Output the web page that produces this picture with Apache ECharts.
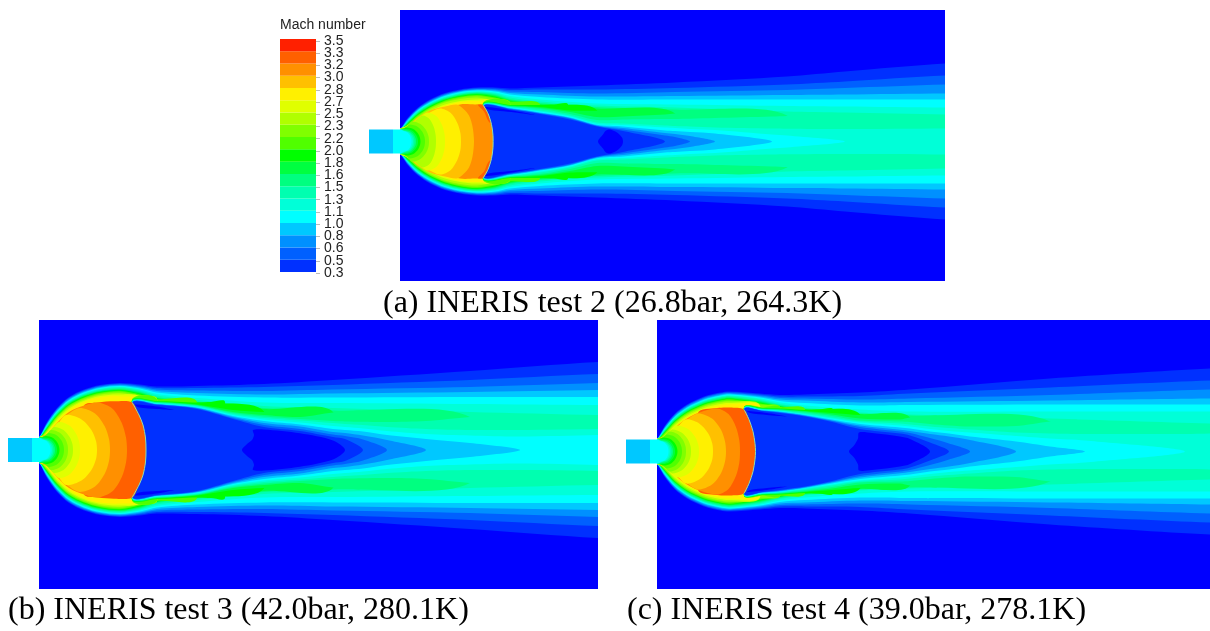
<!DOCTYPE html>
<html><head><meta charset="utf-8">
<style>html,body{margin:0;padding:0;background:#fff}#c{width:1210px;height:631px;filter:blur(0.55px)}</style>
<script src="https://cdn.jsdelivr.net/npm/echarts@6/dist/echarts.min.js"></script>
</head><body><div id="c"></div>
<script>
// Contour colours, C0 (lowest Mach) to C19
const bandColors=['#0000ff','#0030ff','#0060ff','#0090ff','#00c8ff','#00ffff','#00ffd8','#00ffb0','#00ff80','#00ff40','#00ff00','#50ff00','#80ff00','#b0ff00','#e0ff00','#fff000','#ffc000','#ff9000','#ff6000','#ff2000'];
const tickLabels=['0.3','0.5','0.6','0.8','1.0','1.1','1.3','1.5','1.6','1.8','2.0','2.2','2.3','2.5','2.7','2.8','3.0','3.2','3.3','3.5'];
const captions=['(a) INERIS test 2 (26.8bar, 264.3K)','(b) INERIS test 3 (42.0bar, 280.1K)','(c) INERIS test 4 (39.0bar, 278.1K)'];
const nozzleX=[-31,-7,0], nozzleHalf=12;

// Nozzle-exit iso-Mach contours [x, half-height]
const n_C12=[[0,12],[4,13],[8,16],[12,20],[20.5,17.4],[26,11.4],[28.5,5.2],[29,0]];
const n_C11=[[0,12],[3,13],[7,15],[10,17],[17.5,14.8],[22.3,9.7],[24.5,4.4],[25,0]];
const n_C10=[[0,12],[3,12.5],[7,14],[13.7,12.2],[18,8],[20,3.6],[20.5,0]];
const n_C9=[[0,12],[6,12.5],[12,10.9],[15.8,7.1],[17.6,3.3],[18,0]];
const n_C8=[[0,12],[5,11.5],[10.5,10],[14,6.6],[15.7,3],[16,0]];
const n_C7=[[0,12],[5,10.5],[9.7,9.1],[12.8,6],[14.2,2.7],[14.5,0]];
const n_C6=[[0,12],[4,10.5],[8.5,9.1],[11.4,6],[12.7,2.7],[13,0]];
const n_C5=[[0,12],[3,10.5],[7.2,9.1],[10,6],[11.2,2.7],[11.5,0]];

// PANEL A: outer contour half-heights at stations a_x
const a_x=[0,2,8,18,30,45,60,77,95,110,140,197,275,387,445,545];
const a_E1=[12,15,24,34,42,48.5,52,54,54,53,54,56,59,65,70,78];
const a_E2=[12,14.5,23.3,33.3,41.2,47.7,51.3,53.2,53,51.5,52,52,53.5,57,60,66];
const a_E3=[12,14.2,22.7,32.6,40.5,47,50.6,52.4,52,50,49.5,48,49.5,51.5,53.5,57];
const a_E4=[12,14,22,32,39.8,46.3,50,51.7,51,48.5,47,45,45.5,46.5,47,48];
const a_E5=[12,13.7,21.3,31.3,39,45.5,49.3,51,50,47,44.5,42,42,42,42,42];
const a_E6=[12,13.3,20.6,30.5,38.2,44.7,48.5,50.3,49,45.5,42,38,37,35.5,35,34];
const a_E7=[12,13,20,29.7,37.4,44,47.8,49.5,48,44,40,36,34,30,29,27];
const a_E8=[12,12.8,19.4,29,36.7,43.2,47,48.8,47,42.5,38.5,34.5,32,26];
const a_E9=[12,12.6,18.8,28.2,36,42.5,46.3,48,46,41.5,37.5,33,28];
const a_E10=[12,12.4,18.2,27.4,35.2,41.7,45.5,47.3,45,40.5,36.5,31];
const a_E11=[12,12.2,17.5,26.5,34.3,41,44.7,46.5,44,40,37];
const a_E12=[12,12,16.5,25.5,33.5,40,43.8,45.5,43,39];
const a_E13=[12,12,15.5,24.5,32.5,39,42.5,44,41,38];
const a_E14=[12,12,14.5,23,30.5,37,40.5,42,39.5];
const a_E15=[12,12,14,22,29.5,35.5,39.5,40.5,38.5];
// PANEL A: wake half-heights at stations a_w
const a_w=[83,110,140,170,197,223,265,275,290,315,372,387,445,545];
const a_W12=[38.5,38];
const a_W11=[38,38.5];
const a_W10=[37.5,36.5,36.5];
const a_W9=[37,36,34.5,31,30.7];
const a_W8=[36.5,35.5,33.5,29.5,24.5,25,27,28];
const a_W7=[36,35,32.5,27.5,21.5,22,22.5,22.6,22.8,23.5,25,25.6];
const a_W6=[36,34.5,31,26,19,18,16,15.5,15,14,13,12.8,12.5,13];
const a_W5=[35.5,34,30,25,17.5,16.5,14,13.5,12.5,11.5,7,6,0];
const a_W4=[35.5,33.5,29,24,16.7,15,11,10.5,9.5,8,0];
const a_W3=[35,33,28.5,23.5,16,13.5,8.5,7.5,5.5,0];
const a_W2=[35,32.5,28,23,15.5,12,6,4.5,0];
const a_W1=[34.5,32,27.5,22,15,10.5,0];
const a_bulb=[[198,0],[203,7],[206,11],[210,12],[217,9],[222,4],[223,0]];
const a_sliver=[[85,34.5],[100,33],[120,29.5],[135,26.5],[115,29],[100,30.5],[88,32]];
const a_disc=[[40,30],[60,37],[75,37],[83,36.5],[88,28],[91.5,17],[93,6],[93,0]];
const a_discEdge=[[83,36.5],[88,28],[91.5,17],[93,6],[93,-6],[91.5,-17],[88,-28],[83,-36.5]];
const a_red=[[78,36.5],[83,36.5],[88,28],[91,18],[88,21],[84,30]];
const a_B16=[[0,12],[8,16],[18,24],[30,31],[45,35],[57,37],[64,32],[69,26],[72.5,15],[74,0]];
const a_B15=[[0,12],[8,15],[18,22],[28,28],[40,33],[50.5,28.7],[57.2,18.8],[60.4,8.6],[61,0]];
const a_B14=[[0,12],[6,15],[14,20],[22,26],[28,29],[36.5,25.2],[42,16.5],[44.5,7.5],[45,0]];
const a_B13=[[0,12],[5,14],[12,18],[18,23],[23,26],[29.5,22.6],[33.7,14.8],[35.6,6.8],[36,0]];

// PANEL B
const b_x=[0,2,8,18,30,45,61,81,101,118,158,225,294,431,559];
const b_E1=[12,16,28,42,53,60.5,65,67,65.5,63.5,64,66,70,79,88];
const b_E2=[12,15.5,27.3,41.2,52.2,59.7,64.2,66.2,64.5,62,62,63,65,70,76];
const b_E3=[12,15.2,26.6,40.4,51.4,59,63.5,65.5,63.5,60.5,59.5,59,60.5,63,67];
const b_E4=[12,15,25.9,39.6,50.6,58.2,62.8,64.8,62.5,59,57,55.5,56.5,58,60];
const b_E5=[12,14.7,25.2,38.8,49.8,57.4,62,64,61.5,57.5,54.5,52.5,52.5,53,53];
const b_E6=[12,14.4,24.5,38,49,56.6,61.2,63.2,60.5,56,52,47.5,47,46,45];
const b_E7=[12,14.1,23.8,37.2,48.2,55.8,60.4,62.4,59.5,54.5,50,44,42,38,35];
const b_E8=[12,13.8,23.1,36.4,47.4,55,59.6,61.6,58.5,53,48.5,42,39.5,33];
const b_E9=[12,13.5,22.4,35.6,46.6,54.2,58.8,60.8,57.5,52,48,41,38];
const b_E10=[12,13.2,21.7,34.8,45.8,53.4,58,60,56.5,51.5,47,38.5];
const b_E11=[12,13,21,34,45,52.6,57.2,59.2,55.5,51,48];
const b_E12=[12,12.8,20,33,44,51.7,56.3,58.2,54.5,51];
const b_E13=[12,12.5,19,32,43,50.6,55.3,57,53.5,51];
const b_E14=[12,12.2,18,30.5,41.5,49.3,54,55.5,52];
const b_E15=[12,12,17,29,40,48,52.5,53.5,50];
const b_w=[93,118,158,194,225,261,294,306,324,348,387,431,481,559];
const b_W12=[50.5,50];
const b_W11=[50,50.5];
const b_W10=[49.5,49,47.5];
const b_W9=[49,48.5,45.5,40,38];
const b_W8=[48.5,48,45,38,35,33,37.5];
const b_W7=[48,47.5,44.5,37,33.5,31,29,28.6,28.2,28,29,33];
const b_W6=[47.7,47,44,36,32,29.5,27,26,25,23,21,20,20,21];
const b_W5=[47.5,46.5,43,35,30.5,27.5,24,23,21.5,19,16,14.5,13.5,15];
const b_W4=[47.3,46,42.5,34,29,25.5,21,20,18.5,15,11,7,0];
const b_W3=[47,45.7,42,33,27,23.5,18,17,14.5,10,0];
const b_W2=[46.8,45.4,41.5,32,25,21,15.5,14,10.5,0];
const b_W1=[46.5,45,41,31,23,19,13,11,0];
const b_bulb=[[203,0],[208,6],[213,10],[215,15],[214,20],[225,20.5],[261,16.7],[294,9.5],[306,0]];
const b_sliver=[[96,45.5],[118,43.5],[135,40],[118,41],[100,42.5]];
const b_disc=[[45,44],[59,47.5],[75,48.7],[93,47.7],[100,35],[104,25],[106.5,12],[107,0]];
const b_discEdge=[[93,47.7],[100,35],[104,25],[106.5,12],[107,0],[106.5,-12],[104,-25],[100,-35],[93,-47.7]];
const b_B17=[[0,12],[8,16],[18,27],[30,38],[45,44.5],[59,47.5],[73.5,41.3],[82.8,27],[87,12.4],[88,0]];
const b_B16=[[0,12],[8,16],[18,26],[30,36.5],[41,42],[56,36.5],[65.6,24],[70,11],[71,0]];
const b_B15=[[0,12],[8,15],[18,25],[27,35],[42.5,30.5],[52.4,20],[57,9],[58,0]];
const b_B14=[[0,12],[6,14],[13,21],[20,28],[30.5,24.4],[37.2,16],[40.4,7.3],[41,0]];
const b_B13=[[0,12],[5,13.5],[10,18],[15,23],[24.5,20],[30.6,13],[33.4,6],[34,0]];

// PANEL C
const c_x=[0,2,8,18,30,47,63,73,103,123,148,203,253,393,553];
const c_E1=[12,15.5,26,38,47,55,59,60,58,56.5,57,59,62,73,83];
const c_E2=[12,15,25.3,37.2,46.2,54.2,58.2,59.2,57,55,55,55.5,58,64,71];
const c_E3=[12,14.7,24.6,36.4,45.4,53.4,57.4,58.5,56,53.5,53,52,53,56.5,62];
const c_E4=[12,14.5,23.9,35.6,44.6,52.6,56.6,57.7,55,52,51,49,49.5,51,53];
const c_E5=[12,14.2,23.2,34.8,43.8,51.8,55.8,57,54,50.5,48.5,46,46.5,47,47];
const c_E6=[12,13.9,22.5,34,43,51,55,56.2,53,49,46,42,40,40,40];
const c_E7=[12,13.6,21.8,33.2,42.2,50.2,54.2,55.4,52,47.5,44,39,37,33,28];
const c_E8=[12,13.3,21.1,32.4,41.4,49.4,53.4,54.6,51,46.5,43,38,36,30];
const c_E9=[12,13,20.4,31.6,40.6,48.6,52.6,53.8,50,45.5,42.5,37.5,34];
const c_E10=[12,12.8,19.7,30.8,39.8,47.8,51.8,53,49,45,42,37];
const c_E11=[12,12.6,19,30,39,47,51,52.2,48,44.5,42];
const c_E12=[12,12.4,18,29,38,46,50,51,47,44];
const c_E13=[12,12.2,17,28,37,45,49,50,46];
const c_E14=[12,12,16,26.5,35.5,43.5,47.5,48.5,45.5];
const c_E15=[12,12,15,25,34,42,46,47,45];
const c_w=[87,105,123,148,175,203,243,253,273,292,313,359,393,428,528,553];
const c_W12=[44.5,44.5,44];
const c_W11=[44.2,44,44];
const c_W10=[44,43.5,43,41.5];
const c_W9=[43.7,43,42.5,40.5,38.5,36.5];
const c_W8=[43.5,42.7,42,40,37,33,32,34];
const c_W7=[43.3,42.5,41.5,39,35.5,31,30,29.5,27.5,26,25,25.5,30];
const c_W6=[43,42,41,38,34,30,28,27,25,23.5,22,19,18,17.5,17.5,18];
const c_W5=[42.8,41.7,40.5,37,33,29,26,25,22.5,20.5,19,15.5,13,11,0];
const c_W4=[42.6,41.3,40,36.5,32,27.5,24,23,20,18,15,10,5,0];
const c_W3=[42.4,41,39.5,36,31,26,21.7,20.5,17.5,15,11.5,0];
const c_W2=[42.2,40.7,39,35.5,30.5,24.5,20,18.5,13.5,8,0];
const c_W1=[42,40.5,38.5,35,29.5,22.5,18,16,9,0];
const c_bulb=[[192,0],[197,6],[201,13],[202,19],[215,18.5],[243,15],[253,12.5],[273,0]];
const c_sliver=[[90,40.5],[110,38.5],[130,35],[110,36.5],[93,38.5]];
const c_disc=[[41,38.5],[60,43.5],[73,44],[87,42],[92,32],[96,20],[98,8],[98.5,0]];
const c_discEdge=[[87,42],[92,32],[96,20],[98,8],[98.5,0],[98,-8],[96,-20],[92,-32],[87,-42]];
const c_B17=[[0,12],[8,15],[18,24],[30,33],[41,38.5],[60,43],[71.5,37.4],[78.9,24.5],[82.3,11.2],[83,0]];
const c_B16=[[0,12],[8,15],[18,23],[29,31],[41,38],[55,33],[64,21.7],[68,10],[69,0]];
const c_B15=[[0,12],[8,14.5],[18,22],[29,32],[42.5,27.8],[51.1,18.2],[55.2,8.3],[56,0]];
const c_B14=[[0,12],[6,14],[13,20],[20,26],[31,22.6],[38,14.8],[41.3,6.8],[42,0]];
const c_B13=[[0,12],[5,13.5],[10,17],[15,22],[24.5,19],[30.6,12.5],[33.4,5.7],[34,0]];

const zip=(xs,hs)=>hs.map((h,i)=>[xs[i],h]);
const mirror=p=>p.concat(p.slice().reverse().filter(q=>q[1]!==0).map(q=>[q[0],-q[1]]));
// a contour that leaves the frame is continued past the clip edge, so the closing corner is never seen
const open=(p,xMax)=>{const l=p[p.length-1];return (l[0]>=xMax-2&&l[1]>0)?p.concat([[xMax+40,l[1]],[xMax+80,l[1]]]):p;};
// a lens's inner edge runs on past its tip over ground of its own colour, hiding the lens's closing edge
const tail=(p,on)=>{const l=p[p.length-1];return (on&&l[1]>0)?p.concat([[l[0]+14,l[1]+.5],[l[0]+28,l[1]+.5]]):p;};

function panelLayers(xMax,x,E,w,W,bulb,sliver,disc,discColor,extra,blobs){
  const L=[];
  E.forEach((hs,i)=>L.push({c:i+1,pts:mirror(open(zip(x,hs),xMax))}));
  for(let k=W.length;k>=1;k--){ L.push({c:k,pts:mirror(open(tail(zip(w,W[k-1]),k<=10),xMax))}); }
  L.push({c:0,pts:mirror(bulb)});
  L.push({c:0,pts:sliver,both:true});
  L.push({c:discColor,pts:mirror(disc)});
  if(extra) L.push({c:18,pts:extra,both:true});
  blobs.forEach(b=>L.push({c:b[0],pts:mirror(b[1])}));
  return L;
}
const shared=[[12,n_C12],[11,n_C11],[10,n_C10],[9,n_C9],[8,n_C8],[7,n_C7],[6,n_C6],[5,n_C5]];
const layersA=panelLayers(545,a_x,[a_E1,a_E2,a_E3,a_E4,a_E5,a_E6,a_E7,a_E8,a_E9,a_E10,a_E11,a_E12,a_E13,a_E14,a_E15],a_w,
  [a_W1,a_W2,a_W3,a_W4,a_W5,a_W6,a_W7,a_W8,a_W9,a_W10,a_W11,a_W12],a_bulb,a_sliver,a_disc,17,a_red,
  [[16,a_B16],[15,a_B15],[14,a_B14],[13,a_B13]].concat(shared));
const layersB=panelLayers(559,b_x,[b_E1,b_E2,b_E3,b_E4,b_E5,b_E6,b_E7,b_E8,b_E9,b_E10,b_E11,b_E12,b_E13,b_E14,b_E15],b_w,
  [b_W1,b_W2,b_W3,b_W4,b_W5,b_W6,b_W7,b_W8,b_W9,b_W10,b_W11,b_W12],b_bulb,b_sliver,b_disc,18,null,
  [[17,b_B17],[16,b_B16],[15,b_B15],[14,b_B14],[13,b_B13]].concat(shared));
const layersC=panelLayers(553,c_x,[c_E1,c_E2,c_E3,c_E4,c_E5,c_E6,c_E7,c_E8,c_E9,c_E10,c_E11,c_E12,c_E13,c_E14,c_E15],c_w,
  [c_W1,c_W2,c_W3,c_W4,c_W5,c_W6,c_W7,c_W8,c_W9,c_W10,c_W11,c_W12],c_bulb,c_sliver,c_disc,18,null,
  [[17,c_B17],[16,c_B16],[15,c_B15],[14,c_B14],[13,c_B13]].concat(shared));

function plotSeries(i,layers,edge){
  const items=layers.map((l,k)=>[k,0]);
  return {type:'custom',coordinateSystem:'cartesian2d',xAxisIndex:i,yAxisIndex:i,silent:true,clip:true,animation:false,
    encode:{x:0,y:1},data:items.concat([[layers.length,0]]),
    renderItem(p,api){
      if(p.dataIndex===layers.length){
        return {type:'polyline',shape:{points:edge.map(q=>api.coord(q)),smooth:0.3},style:{stroke:'#8fdcb0',lineWidth:1,fill:null}};
      }
      const l=layers[p.dataIndex];
      const poly=pts=>({type:'polygon',shape:{points:pts.map(q=>api.coord(q)),smooth:0.3},style:{fill:bandColors[l.c]}});
      if(l.both) return {type:'group',children:[poly(l.pts),poly(l.pts.map(q=>[q[0],-q[1]]))]};
      return poly(l.pts);
    }};
}
function nozzleSeries(i){
  return {type:'custom',coordinateSystem:'cartesian2d',xAxisIndex:i,yAxisIndex:i,silent:true,animation:false,
    encode:{x:0,y:1},data:[[0,0],[1,0]],
    renderItem(p,api){
      const a=nozzleX[p.dataIndex],b=nozzleX[p.dataIndex+1];
      return {type:'polygon',shape:{points:[[a,nozzleHalf],[b,nozzleHalf],[b,-nozzleHalf],[a,-nozzleHalf]].map(q=>api.coord(q))},style:{fill:bandColors[4+p.dataIndex]}};
    }};
}
const panels=[
 {left:400,top:10,w:545,h:271,xMax:545,yMax:131.5,nl:369},
 {left:39,top:320,w:559,h:269,xMax:559,yMax:130,nl:9},
 {left:657,top:320,w:553,h:269,xMax:553,yMax:131.5,nl:626}
];
const grids=[],xA=[],yA=[],series=[];
panels.forEach(p=>{
  grids.push({left:p.left,top:p.top,width:p.w,height:p.h,show:true,backgroundColor:bandColors[0],borderWidth:0});
  xA.push({type:'value',gridIndex:grids.length-1,min:0,max:p.xMax,show:false});
  yA.push({type:'value',gridIndex:grids.length-1,min:p.yMax-p.h,max:p.yMax,show:false});
});
panels.forEach(p=>{
  grids.push({left:p.nl,top:p.top,width:p.left-p.nl,height:p.h,show:false});
  xA.push({type:'value',gridIndex:grids.length-1,min:-(p.left-p.nl),max:0,show:false});
  yA.push({type:'value',gridIndex:grids.length-1,min:p.yMax-p.h,max:p.yMax,show:false});
});
series.push(plotSeries(0,layersA,a_discEdge),plotSeries(1,layersB,b_discEdge),plotSeries(2,layersC,c_discEdge));
series.push(nozzleSeries(3),nozzleSeries(4),nozzleSeries(5));
// Legend colour bar
grids.push({left:280,top:39,width:36,height:233,show:false});
xA.push({type:'value',gridIndex:6,min:0,max:1,show:false});
yA.push({type:'value',gridIndex:6,min:0,max:19,show:false});
series.push({type:'custom',coordinateSystem:'cartesian2d',xAxisIndex:6,yAxisIndex:6,silent:true,animation:false,
  encode:{x:0,y:1},data:bandColors.slice(1).map((c,i)=>[0,i]),
  renderItem(p,api){
    const i=p.dataIndex,a=api.coord([0,i]),b=api.coord([1,i+1]);
    return {type:'rect',shape:{x:a[0],y:b[1],width:b[0]-a[0],height:a[1]-b[1]},style:{fill:bandColors[i+1]}};
  }});
// Legend tick labels
grids.push({left:316,top:41,width:1,height:232,show:false});
xA.push({type:'value',gridIndex:7,min:0,max:1,show:false});
yA.push({type:'category',gridIndex:7,position:'right',boundaryGap:false,data:tickLabels,
  axisLine:{show:false},axisTick:{show:true,length:4,lineStyle:{color:'#bbb',width:1}},
  axisLabel:{show:true,interval:0,margin:7,color:'#222',fontFamily:'Liberation Sans',fontSize:14,hideOverlap:false},
  splitLine:{show:false}});
const capStyle={fontFamily:'Liberation Serif',fontSize:32,fontWeight:'normal',color:'#000'};
const chart=echarts.init(document.getElementById('c'),null,{renderer:'canvas'});
chart.setOption({animation:false,backgroundColor:'#fff',
  title:[
   {text:'Mach number',left:280,top:18,padding:0,textStyle:{fontFamily:'Liberation Sans',fontSize:14,fontWeight:'normal',color:'#222'}},
   {text:captions[0],left:383,top:288,padding:0,textStyle:capStyle},
   {text:captions[1],left:8,top:595,padding:0,textStyle:capStyle},
   {text:captions[2],left:627,top:595,padding:0,textStyle:capStyle}
  ],
  grid:grids,xAxis:xA,yAxis:yA,series});
</script></body></html>
